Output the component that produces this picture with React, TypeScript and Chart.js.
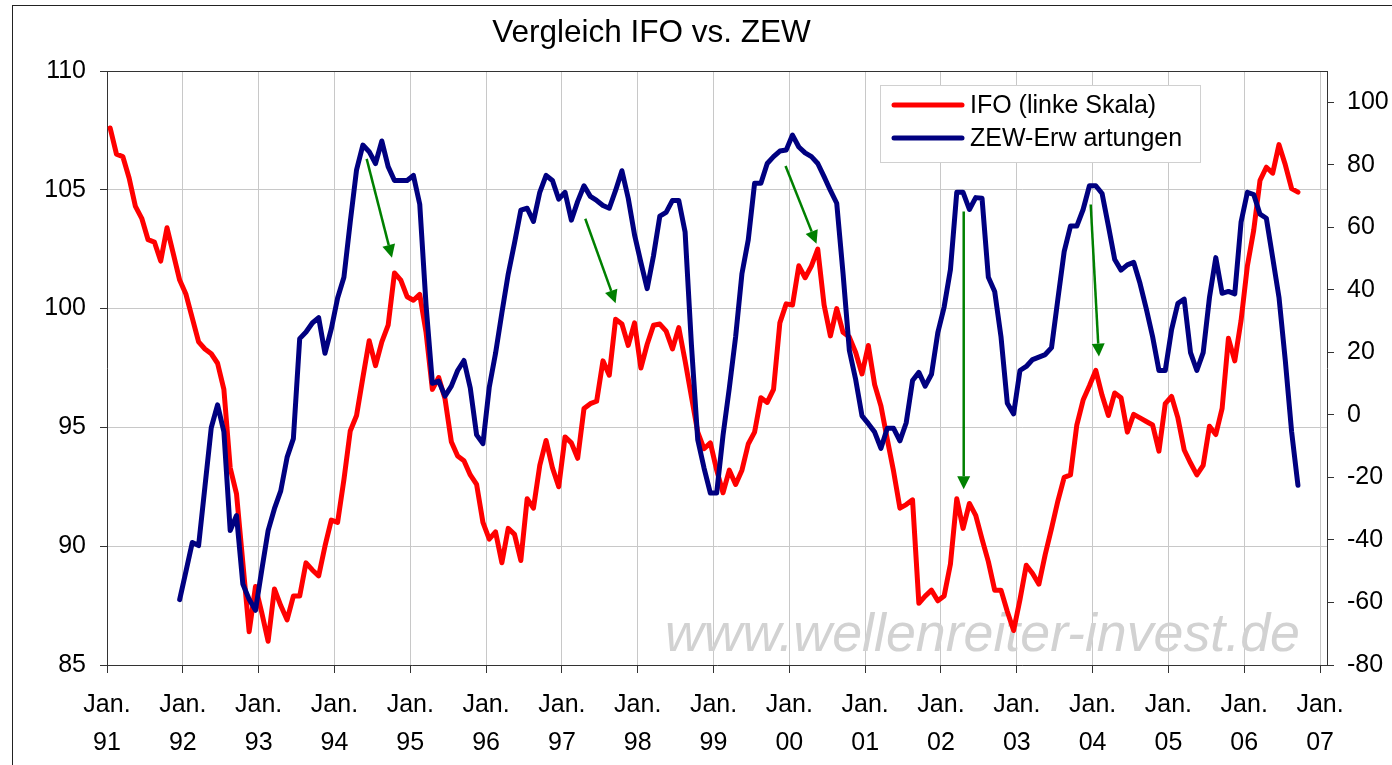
import { useEffect, useRef } from "react";
import { Chart, registerables } from "chart.js";

Chart.register(...registerables);

const TITLE = "Vergleich IFO vs. ZEW";
const IFO_LABEL = "IFO (linke Skala)";
const ZEW_LABEL = "ZEW-Erw artungen";
const WATERMARK = "www.wellenreiter-invest.de";
const MONTH_LABEL = "Jan.";
const YEAR_LABELS = ["91", "92", "93", "94", "95", "96", "97", "98", "99", "00", "01", "02", "03", "04", "05", "06", "07"];
const LEFT_TICKS = [85, 90, 95, 100, 105, 110];
const RIGHT_TICKS = [-80, -60, -40, -20, 0, 20, 40, 60, 80, 100];

// month index 0 = Jan 91 (values plotted mid-month)
const IFO_START = 0;
const IFO = [
  107.6, 106.5, 106.4, 105.5, 104.3, 103.8, 102.9, 102.8, 102.0, 103.4, 102.3, 101.2,
  100.6, 99.6, 98.6, 98.3, 98.1, 97.7, 96.6, 93.3, 92.2, 89.3, 86.4, 88.3,
  87.2, 86.0, 88.2, 87.5, 86.9, 87.9, 87.9, 89.3, 89.0, 88.75, 90.0, 91.1,
  91.0, 92.8, 94.85, 95.5, 97.1, 98.65, 97.6, 98.6, 99.3, 101.5, 101.2, 100.5,
  100.35, 100.6, 99.0, 96.6, 97.1, 96.2, 94.4, 93.8, 93.6, 93.0, 92.6, 91.0,
  90.3, 90.6, 89.3, 90.75, 90.5, 89.4, 92.0, 91.6, 93.4, 94.45, 93.3, 92.5,
  94.6, 94.35, 93.7, 95.8, 96.0, 96.1, 97.8, 97.2, 99.55, 99.35, 98.45, 99.4,
  97.5, 98.5, 99.3, 99.35, 99.05, 98.3, 99.2, 97.8, 96.3, 94.8, 94.1, 94.35,
  93.2, 92.25, 93.2, 92.6, 93.2, 94.3, 94.8, 96.25, 96.05, 96.6, 99.4, 100.2,
  100.15, 101.8, 101.3, 101.8, 102.5, 100.15, 98.85, 100.0, 99.0, 98.8, 98.15, 97.25,
  98.45, 96.8, 95.9, 94.5, 93.15, 91.6, 91.75, 91.95, 87.6, 87.9, 88.15, 87.7,
  87.9, 89.25, 92.0, 90.75, 91.8, 91.3, 90.3, 89.35, 88.15, 88.15, 87.25, 86.45,
  87.75, 89.2, 88.85, 88.4, 89.65, 90.75, 91.9, 92.9, 93.0, 95.1, 96.15, 96.75,
  97.4, 96.35, 95.5, 96.45, 96.25, 94.8, 95.55, 95.4, 95.25, 95.1, 94.0, 96.0,
  96.3, 95.4, 94.05, 93.5, 93.0, 93.4, 95.05, 94.7, 95.8, 98.75, 97.8, 99.5,
  101.8, 103.3, 105.4, 105.95, 105.7, 106.9, 106.05, 105.05, 104.9,
];

// month index 11 = Dec 91
const ZEW_START = 11;
const ZEW = [
  -59.1,
  -50, -40.8, -41.8, -23, -4.1, 3.2, -5.4, -37.0, -32.2, -54.1, -59, -62.5,
  -49.6, -37.0, -30.0, -24.3, -13.6, -7.6, 24.4, 26.5, 29.4, 31.1, 19.7, 27.5,
  37.4, 44.0, 61.7, 78.4, 86.3, 84.2, 80.4, 87.6, 79.4, 75.0, 75.0, 75.0,
  76.6, 67.4, 35.1, 10.1, 10.8, 6.0, 9.2, 14.2, 17.4, 8.6, -6.4, -9.2,
  8.8, 19.7, 32.6, 45, 55, 65.5, 66.1, 61.9, 71.2, 76.6, 75.0, 69.0,
  71.2, 62.3, 68.3, 73.3, 69.9, 68.6, 67.0, 66.1, 71.8, 78.1, 69.3, 57.6,
  48.8, 40.4, 50.9, 63.6, 64.8, 68.6, 68.6, 58.5, 22.5, -7.9, -17, -25.0,
  -25.0, -6.6, 8.6, 25.0, 45.2, 56.0, 74.1, 74.1, 80.4, 82.6, 84.4, 84.7,
  89.5, 85.7, 83.8, 82.6, 80.4, 76.2, 71.8, 67.7, 45.2, 20.6, 11.3, -0.3,
  -2.8, -5.5, -10.7, -4.3, -4.3, -8.3, -2.5, 11.0, 13.6, 9.2, 13.0, 26.3,
  34.5, 46.5, 71.2, 71.2, 65.7, 69.5, 69.3, 44.0, 39.5, 25.0, 3.7, 0.3,
  14.2, 15.5, 17.7, 18.5, 19.3, 21.5, 37, 52.2, 60.4, 60.4, 65.7, 73.3,
  73.3, 70.8, 60.4, 49.7, 46.3, 48.0, 48.8, 42.1, 33.9, 25.0, 14.2, 14.2,
  27.3, 35.7, 37.0, 19.9, 14.2, 19.9, 37.6, 50.3, 38.9, 39.5, 38.7, 61.7,
  71.2, 70.5, 64.2, 62.9, 50.3, 37.6, 17.4, -5.4, -22.5,
];

// green arrows: [fromMonth, fromIFO, toMonth, toIFO]
const ARROWS = [
  [41.1, 106.3, 45.1, 102.14],
  [75.7, 103.78, 80.5, 100.23],
  [107.4, 106.0, 112.3, 102.73],
  [135.6, 104.09, 135.6, 92.4],
  [155.7, 104.38, 157.0, 97.98],
];

const MID_MONTH = 0.5;
const FONT = '"Liberation Sans", Arial, sans-serif';
const RED = "#ff0000";
const NAVY = "#000080";
const GRID = "#c8c8c8";
const AXIS = "#333333";

function drawArrow(ctx: CanvasRenderingContext2D, x1: number, y1: number, x2: number, y2: number) {
  const ang = Math.atan2(y2 - y1, x2 - x1);
  const head = 13;
  const hw = 6.5;
  const bx = x2 - head * Math.cos(ang);
  const by = y2 - head * Math.sin(ang);
  ctx.beginPath();
  ctx.moveTo(x1, y1);
  ctx.lineTo(bx, by);
  ctx.stroke();
  ctx.beginPath();
  ctx.moveTo(x2, y2);
  ctx.lineTo(bx + hw * Math.sin(ang), by - hw * Math.cos(ang));
  ctx.lineTo(bx - hw * Math.sin(ang), by + hw * Math.cos(ang));
  ctx.closePath();
  ctx.fill();
}

const decorPlugin = {
  id: "decor",
  beforeDatasetsDraw(chart: any) {
    const ctx = chart.ctx as CanvasRenderingContext2D;
    ctx.save();
    let fs = 53;
    ctx.font = `italic ${fs}px ${FONT}`;
    const w = ctx.measureText(WATERMARK).width;
    fs = (fs * 635) / w;
    ctx.font = `italic ${fs}px ${FONT}`;
    ctx.fillStyle = "#d2d2d2";
    ctx.textAlign = "left";
    ctx.textBaseline = "alphabetic";
    ctx.fillText(WATERMARK, 665, 651);
    ctx.restore();
  },
  afterDatasetsDraw(chart: any) {
    const ctx = chart.ctx as CanvasRenderingContext2D;
    const xs = chart.scales.x;
    const ys = chart.scales.y;
    ctx.save();
    ctx.strokeStyle = "#008000";
    ctx.fillStyle = "#008000";
    ctx.lineWidth = 2.5;
    for (const a of ARROWS) {
      drawArrow(
        ctx,
        xs.getPixelForValue(a[0]),
        ys.getPixelForValue(a[1]),
        xs.getPixelForValue(a[2]),
        ys.getPixelForValue(a[3])
      );
    }
    ctx.restore();
  },
  afterDraw(chart: any) {
    const ctx = chart.ctx as CanvasRenderingContext2D;
    const ca = chart.chartArea;
    ctx.save();
    ctx.strokeStyle = AXIS;
    ctx.lineWidth = 1;
    ctx.beginPath();
    ctx.moveTo(ca.left, Math.round(ca.top) + 0.5);
    ctx.lineTo(ca.right, Math.round(ca.top) + 0.5);
    ctx.stroke();
    ctx.strokeStyle = "#222";
    ctx.strokeRect(12.5, 5.5, 1400, 800);
    ctx.fillStyle = "#000";
    ctx.font = `31.5px ${FONT}`;
    ctx.textAlign = "center";
    ctx.textBaseline = "alphabetic";
    ctx.fillText(TITLE, 651.5, 42);
    ctx.fillStyle = "#fff";
    ctx.fillRect(880.5, 85.5, 320, 77);
    ctx.strokeStyle = "#d0d0d0";
    ctx.lineWidth = 1;
    ctx.strokeRect(880.5, 85.5, 320, 77);
    const rows: [string, string, number][] = [
      [IFO_LABEL, RED, 105],
      [ZEW_LABEL, NAVY, 138],
    ];
    for (const [label, color, y] of rows) {
      ctx.strokeStyle = color;
      ctx.lineWidth = 5;
      ctx.lineCap = "round";
      ctx.beginPath();
      ctx.moveTo(894, y);
      ctx.lineTo(962, y);
      ctx.stroke();
      ctx.fillStyle = "#000";
      ctx.font = `25px ${FONT}`;
      ctx.textAlign = "left";
      ctx.textBaseline = "middle";
      ctx.fillText(label, 970, y + 1);
    }
    ctx.restore();
  },
};

export default function App() {
  const ref = useRef<HTMLCanvasElement>(null);
  useEffect(() => {
    if (!ref.current) return;
    Chart.defaults.font.family = FONT;
    Chart.defaults.color = "#000";
    const chart = new Chart(ref.current, {
      type: "line",
      data: {
        datasets: [
          {
            label: IFO_LABEL,
            data: IFO.map((v, i) => ({ x: IFO_START + i + MID_MONTH, y: v })),
            borderColor: RED,
            backgroundColor: RED,
            borderWidth: 5,
            pointRadius: 0,
            tension: 0,
            borderJoinStyle: "round",
            borderCapStyle: "round",
            yAxisID: "y",
            order: 1,
          },
          {
            label: ZEW_LABEL,
            data: ZEW.map((v, i) => ({ x: ZEW_START + i + MID_MONTH, y: v })),
            borderColor: NAVY,
            backgroundColor: NAVY,
            borderWidth: 5,
            pointRadius: 0,
            tension: 0,
            borderJoinStyle: "round",
            borderCapStyle: "round",
            yAxisID: "y2",
            order: 0,
          },
        ],
      },
      options: {
        animation: false,
        responsive: true,
        maintainAspectRatio: false,
        layout: { padding: { top: 71, left: 0, right: 0, bottom: 0 } },
        plugins: {
          legend: { display: false },
          title: { display: false },
          tooltip: { enabled: false },
        },
        scales: {
          x: {
            type: "linear",
            min: 0,
            max: 193.1,
            afterBuildTicks: (s: any) => {
              s.ticks = YEAR_LABELS.map((_, i) => ({ value: i * 12 }));
            },
            afterFit: (s: any) => {
              s.height = 100;
            },
            ticks: {
              autoSkip: false,
              maxRotation: 0,
              padding: 13,
              color: "#000",
              font: { size: 25, lineHeight: 1.52 },
              callback: (v: any) => [MONTH_LABEL, YEAR_LABELS[Math.round(Number(v) / 12)]],
            },
            grid: { color: GRID, tickColor: AXIS, tickLength: 8, lineWidth: 1 },
            border: { color: AXIS, width: 1 },
          },
          y: {
            position: "left",
            min: 85,
            max: 110,
            afterBuildTicks: (s: any) => {
              s.ticks = LEFT_TICKS.map((v) => ({ value: v }));
            },
            afterFit: (s: any) => {
              s.width = 107;
            },
            ticks: { padding: 14, color: "#000", font: { size: 25 } },
            grid: { color: GRID, tickColor: AXIS, tickLength: 7, lineWidth: 1 },
            border: { color: AXIS, width: 1 },
          },
          y2: {
            position: "right",
            min: -80,
            max: 110,
            afterBuildTicks: (s: any) => {
              s.ticks = RIGHT_TICKS.map((v) => ({ value: v }));
            },
            afterFit: (s: any) => {
              s.width = 65;
            },
            ticks: { padding: 13, color: "#000", font: { size: 25 } },
            grid: { drawOnChartArea: false, tickColor: AXIS, tickLength: 7, lineWidth: 1 },
            border: { color: AXIS, width: 1 },
          },
        },
      },
      plugins: [decorPlugin],
    } as any);
    return () => chart.destroy();
  }, []);
  return (
    <div style={{ position: "absolute", left: 0, top: 0, width: 1392, height: 765, background: "#fff" }}>
      <canvas ref={ref} />
    </div>
  );
}
